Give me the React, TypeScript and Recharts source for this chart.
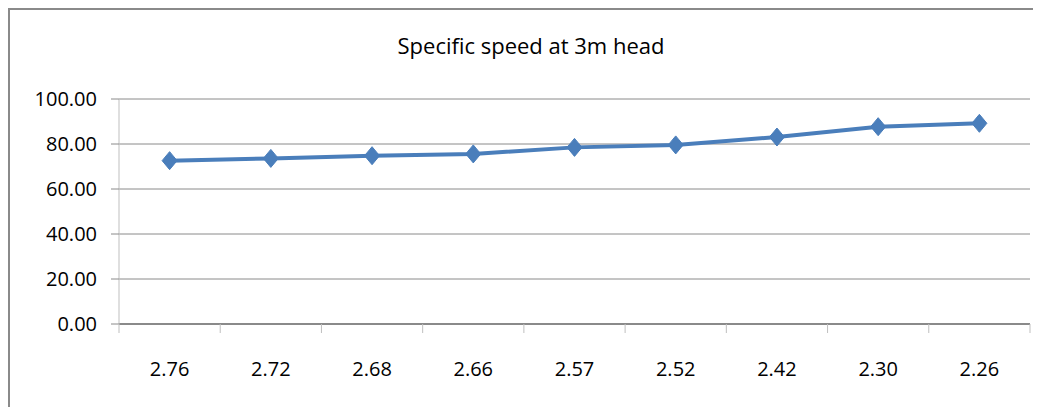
import React from 'react';
import { LineChart, Line, XAxis, YAxis, CartesianGrid } from 'recharts';

const categories = ['2.76', '2.72', '2.68', '2.66', '2.57', '2.52', '2.42', '2.30', '2.26'];
const specificSpeed = [72.6, 73.6, 74.8, 75.6, 78.5, 79.6, 83.1, 87.7, 89.2];
const yTicks = [0, 20, 40, 60, 80, 100];

const data = categories.map((name, i) => ({ name, value: specificSpeed[i] }));

const CHART_W = 1023;
const CHART_H = 398;
const Y_AXIS_W = 109;
const RIGHT = 3;
const BAND = (CHART_W - Y_AXIS_W - RIGHT) / categories.length;
const FONT = '"Open Sans", sans-serif';

const Diamond = (props: any) => {
  const { cx, cy } = props;
  if (cx == null || cy == null) return null;
  return (
    <path
      d={`M${cx},${cy - 9} L${cx + 7.5},${cy} L${cx},${cy + 9} L${cx - 7.5},${cy} Z`}
      fill="#4a7ebb"
      stroke="#4a7ebb"
      strokeWidth={1}
    />
  );
};

const XTick = (props: any) => {
  const { x, y, payload, index } = props;
  const last = index === categories.length - 1;
  return (
    <g>
      <line x1={x - BAND / 2} x2={x - BAND / 2} y1={y} y2={y + 9} stroke="#bfbfbf" />
      {last && <line x1={x + BAND / 2} x2={x + BAND / 2} y1={y} y2={y + 9} stroke="#bfbfbf" />}
      <text
        x={x}
        y={y + 44}
        textAnchor="middle"
        dominantBaseline="central"
        fontFamily={FONT}
        fontSize={20}
        fill="#000"
      >
        {payload.value}
      </text>
    </g>
  );
};

export default function App() {
  return (
    <div
      style={{
        position: 'relative',
        width: CHART_W,
        height: CHART_H + 4,
        border: '2px solid #8a8a8a',
        background: '#fff',
      }}
    >
      <LineChart
        width={CHART_W}
        height={CHART_H}
        data={data}
        margin={{ top: 89, right: RIGHT, bottom: 0, left: 0 }}
        style={{ position: 'absolute', left: 0, top: 0 }}
      >
        <CartesianGrid vertical={false} stroke="#8a8a8a" />
        <XAxis
          dataKey="name"
          height={84}
          padding={{ left: BAND / 2, right: BAND / 2 }}
          tickLine={false}
          tickSize={0}
          tickMargin={0}
          axisLine={{ stroke: '#8a8a8a', strokeWidth: 2 }}
          tick={<XTick />}
          interval={0}
        />
        <YAxis
          width={Y_AXIS_W}
          domain={[0, 100]}
          ticks={yTicks}
          tickFormatter={(v: number) => v.toFixed(2)}
          tickSize={8}
          tickMargin={14}
          tickLine={{ stroke: '#8a8a8a' }}
          axisLine={{ stroke: '#bfbfbf' }}
          tick={{ fontFamily: FONT, fontSize: 20, fill: '#000' }}
        />
        <Line
          type="linear"
          dataKey="value"
          stroke="#4a7ebb"
          strokeWidth={4}
          dot={<Diamond />}
          activeDot={false}
          isAnimationActive={false}
        />
      </LineChart>
      <div
        style={{
          position: 'absolute',
          left: 521,
          top: 25,
          transform: 'translateX(-50%)',
          whiteSpace: 'nowrap',
          fontFamily: FONT,
          fontSize: 22,
          lineHeight: '21px',
          color: '#000',
        }}
      >
        Specific speed at 3m head
      </div>
    </div>
  );
}
